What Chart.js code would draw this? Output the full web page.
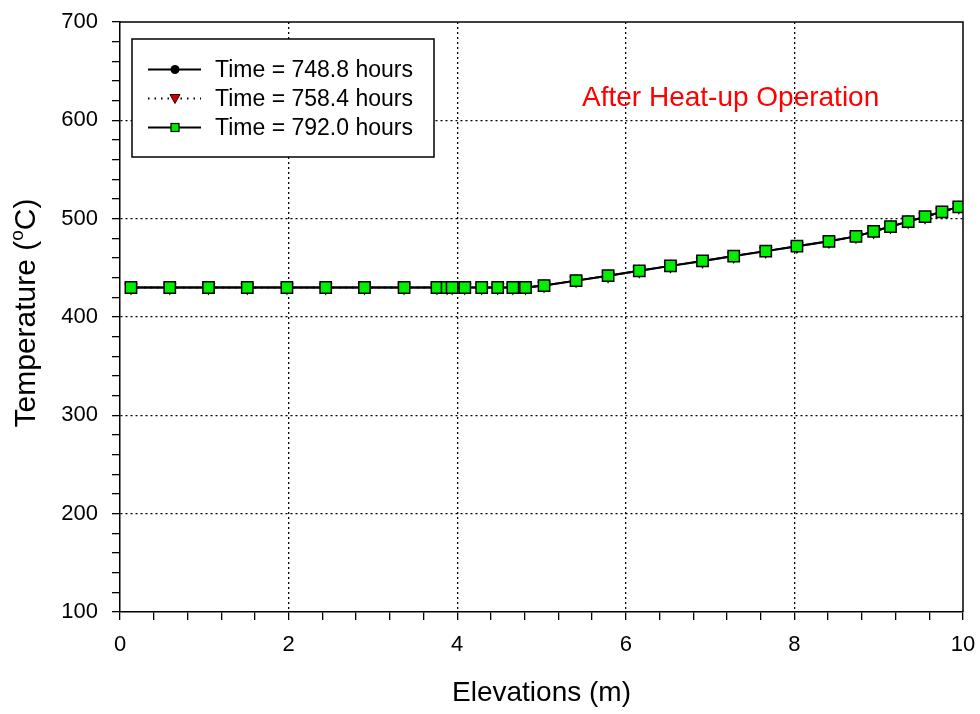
<!DOCTYPE html>
<html>
<head>
<meta charset="utf-8">
<script src="https://cdn.jsdelivr.net/npm/chart.js@4.4.0/dist/chart.umd.min.js"></script>
<style>
  html, body { margin: 0; padding: 0; background: #fff; }
</style>
</head>
<body>
<canvas id="myChart" width="980" height="714"></canvas>
<script>
var FONT = "'Liberation Sans', Arial, sans-serif";

// elevations in metres
var elevations = [0.13, 0.59, 1.05, 1.51, 1.98, 2.44, 2.90, 3.37, 3.76, 3.88, 3.94,
    4.09, 4.29, 4.48, 4.66, 4.81, 5.03, 5.41, 5.79, 6.16, 6.53, 6.91, 7.28,
    7.66, 8.03, 8.41, 8.73, 8.94, 9.14, 9.35, 9.55, 9.75, 9.95];

// temperatures (C) - the three curves sit on top of each other
var temp748 = [430, 430, 430, 430, 430, 430, 430, 430, 430, 430, 430,
    430, 430, 430, 430, 430, 432, 437, 442, 447, 452, 457, 462,
    467, 472, 477, 482, 487, 492, 497, 502, 507, 512];
var temp758 = [430, 430, 430, 430, 430, 430, 430, 430, 430, 430, 430,
    430, 430, 430, 430, 430, 432, 437, 442, 447, 452, 457, 462,
    467, 472, 477, 482, 487, 492, 497, 502, 507, 512];
var temp792 = [430, 430, 430, 430, 430, 430, 430, 430, 430, 430, 430,
    430, 430, 430, 430, 430, 432, 437, 442, 447, 452, 457, 462,
    467, 472, 477, 482, 487, 492, 497, 502, 507, 512];

var seriesLabels = ['Time = 748.8 hours', 'Time = 758.4 hours', 'Time = 792.0 hours'];
var xTickLabels = [0, 2, 4, 6, 8, 10];
var yTickLabels = [100, 200, 300, 400, 500, 600, 700];

function toPoints(xs, ys) {
    var pts = [];
    for (var i = 0; i < xs.length; i++) {
        pts.push({x: xs[i], y: ys[i]});
    }
    return pts;
}

function isLabelled(list, v) {
    for (var i = 0; i < list.length; i++) {
        if (Math.abs(list[i] - v) < 1e-6) return true;
    }
    return false;
}

// dotted grid only on labelled ticks, not on the frame edges
function gridColor(list) {
    return function(ctx) {
        var v = ctx.tick ? ctx.tick.value : null;
        if (v === null) return 'rgba(0,0,0,0)';
        if (Math.abs(v - list[0]) < 1e-6 || Math.abs(v - list[list.length - 1]) < 1e-6) return 'rgba(0,0,0,0)';
        return isLabelled(list, v) ? '#000' : 'rgba(0,0,0,0)';
    };
}

// frame, y title with superscript, note and legend
var extras = {
    id: 'extras',
    afterDraw: function(chart) {
        var c = chart.ctx;
        var a = chart.chartArea;
        c.save();

        c.strokeStyle = '#000';
        c.lineWidth = 1.5;
        c.beginPath();
        c.moveTo(a.left, a.top);
        c.lineTo(a.right, a.top);
        c.lineTo(a.right, a.bottom);
        c.stroke();

        // y axis title
        c.save();
        c.translate(27, (a.top + a.bottom) / 2 - 4);
        c.rotate(-Math.PI / 2);
        c.fillStyle = '#000';
        c.textBaseline = 'middle';
        var big = '30px ' + FONT, small = '19px ' + FONT;
        c.font = big;
        var w1 = c.measureText('Temperature (').width;
        var w3 = c.measureText('C)').width;
        c.font = small;
        var w2 = c.measureText('o').width;
        var x0 = -(w1 + w2 + w3) / 2;
        c.font = big;
        c.textAlign = 'left';
        c.fillText('Temperature (', x0, 0);
        c.font = small;
        c.fillText('o', x0 + w1, -9);
        c.font = big;
        c.fillText('C)', x0 + w1 + w2, 0);
        c.restore();

        // note
        c.fillStyle = '#ff0000';
        c.font = '28px ' + FONT;
        c.textAlign = 'left';
        c.textBaseline = 'middle';
        c.fillText('After Heat-up Operation', 582, 98);

        // legend
        c.fillStyle = '#fff';
        c.fillRect(132, 39, 302, 118);
        c.strokeStyle = '#000';
        c.lineWidth = 1.5;
        c.strokeRect(132, 39, 302, 118);

        var rows = [69.5, 98.5, 127.5];
        for (var i = 0; i < 3; i++) {
            var y = rows[i];
            c.strokeStyle = '#000';
            c.lineWidth = 2;
            c.setLineDash(i === 1 ? [1.5, 5] : []);
            c.beginPath();
            c.moveTo(148, y);
            c.lineTo(201, y);
            c.stroke();
            c.setLineDash([]);
            if (i === 0) {
                c.fillStyle = '#000';
                c.beginPath();
                c.arc(175, y, 4.5, 0, Math.PI * 2);
                c.fill();
            } else if (i === 1) {
                c.fillStyle = '#cc0000';
                c.strokeStyle = '#300';
                c.lineWidth = 1;
                c.beginPath();
                c.moveTo(170, y - 4);
                c.lineTo(180, y - 4);
                c.lineTo(175, y + 5);
                c.closePath();
                c.fill();
                c.stroke();
            } else {
                c.fillStyle = '#00ee00';
                c.strokeStyle = '#000';
                c.lineWidth = 1.2;
                c.fillRect(171, y - 4, 8, 8);
                c.strokeRect(171, y - 4, 8, 8);
            }
            c.fillStyle = '#000';
            c.font = '23px ' + FONT;
            c.textAlign = 'left';
            c.textBaseline = 'middle';
            c.fillText(seriesLabels[i], 215, y + 1);
        }
        c.restore();
    }
};

var ctx = document.getElementById('myChart').getContext('2d');
var myChart = new Chart(ctx, {
    type: 'line',
    data: {
        datasets: [{
            label: seriesLabels[0],
            data: toPoints(elevations, temp748),
            borderColor: '#000',
            borderWidth: 2,
            pointStyle: 'circle',
            pointRadius: 5,
            pointBackgroundColor: '#000',
            pointBorderColor: '#000',
            order: 2
        }, {
            label: seriesLabels[1],
            data: toPoints(elevations, temp758),
            borderColor: '#000',
            borderWidth: 2,
            borderDash: [1.5, 5],
            pointStyle: 'triangle',
            rotation: 180,
            pointRadius: 6,
            pointBackgroundColor: '#cc0000',
            pointBorderColor: '#300',
            order: 1
        }, {
            label: seriesLabels[2],
            data: toPoints(elevations, temp792),
            borderColor: '#000',
            borderWidth: 2,
            pointStyle: 'rect',
            pointRadius: 8,
            pointBackgroundColor: '#00ee00',
            pointBorderColor: '#000',
            pointBorderWidth: 1.5,
            order: 0
        }]
    },
    options: {
        responsive: false,
        animation: false,
        devicePixelRatio: 1,
        layout: { padding: { left: 0, right: 17, top: 22, bottom: 0 } },
        plugins: {
            legend: { display: false },
            tooltip: { enabled: false }
        },
        scales: {
            x: {
                type: 'linear',
                min: 0,
                max: 10,
                ticks: {
                    stepSize: 0.4,
                    autoSkip: false,
                    maxRotation: 0,
                    padding: 12,
                    color: '#000',
                    font: { family: FONT, size: 22 },
                    callback: function(v) { return isLabelled(xTickLabels, v) ? Math.round(v) : ''; }
                },
                grid: {
                    color: gridColor(xTickLabels),
                    lineWidth: 1.3,
                    tickColor: '#000',
                    tickLength: 8,
                    tickWidth: 1.3
                },
                border: { color: '#000', width: 1.5, dash: [2, 3] },
                title: {
                    display: true,
                    text: 'Elevations (m)',
                    color: '#000',
                    font: { family: FONT, size: 28 },
                    padding: { top: 0, bottom: 4 }
                },
                afterFit: function(s) {
                    s.height = 102;
                    s.paddingLeft = 0;
                    s.paddingRight = 0;
                }
            },
            y: {
                min: 100,
                max: 700,
                ticks: {
                    stepSize: 20,
                    autoSkip: false,
                    padding: 14,
                    color: '#000',
                    font: { family: FONT, size: 22 },
                    callback: function(v) { return isLabelled(yTickLabels, v) ? v : ''; }
                },
                grid: {
                    color: gridColor(yTickLabels),
                    lineWidth: 1.3,
                    tickColor: '#000',
                    tickLength: 8,
                    tickWidth: 1.3
                },
                border: { color: '#000', width: 1.5, dash: [2, 3] },
                afterFit: function(s) {
                    s.width = 120;
                    s.paddingTop = 0;
                    s.paddingBottom = 0;
                }
            }
        }
    },
    plugins: [extras]
});
</script>
</body>
</html>
